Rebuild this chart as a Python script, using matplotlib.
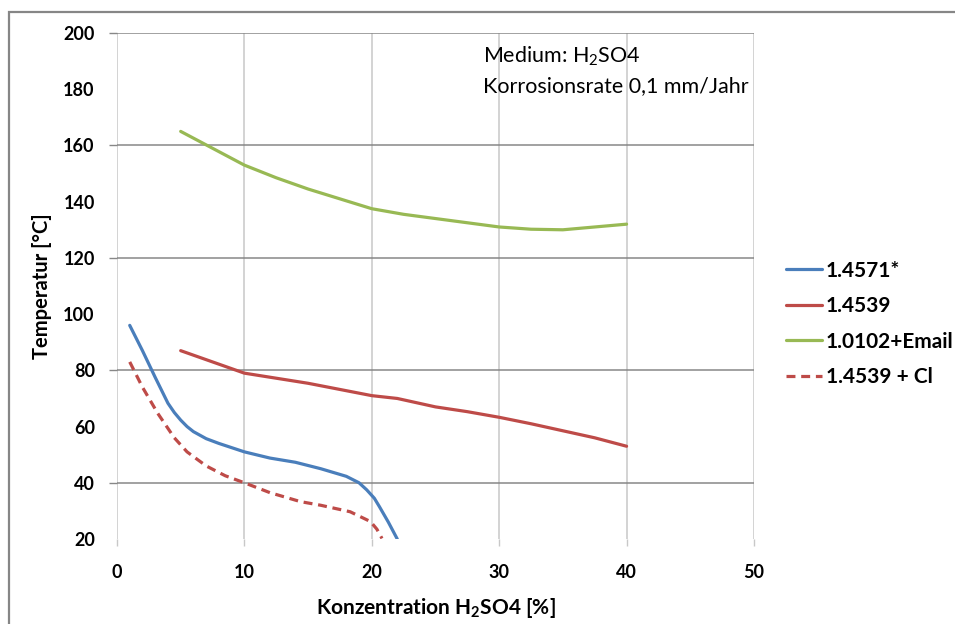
"""Temperature vs H2SO4 concentration at 0.1 mm/year corrosion rate."""

import matplotlib

matplotlib.use("Agg")
import matplotlib.pyplot as plt
from matplotlib.patches import Rectangle
from matplotlib.ticker import MultipleLocator, FixedLocator

plt.rcParams["font.family"] = ["Lato", "DejaVu Sans"]
plt.rcParams["mathtext.fontset"] = "custom"
plt.rcParams["mathtext.rm"] = "Lato"
plt.rcParams["mathtext.bf"] = "Lato:bold"
plt.rcParams["mathtext.it"] = "Lato:italic"

# values
conc_4571 = [1, 2, 3, 4, 4.5, 5, 5.5, 6, 7, 8, 10, 12, 14, 16, 18, 19, 19.6, 20.2, 20.6, 21.3, 22]
temp_4571 = [96, 87, 77.5, 68.3, 65, 62.3, 60, 58.2, 55.7, 54, 51, 48.8, 47.3, 45, 42.3, 40,
             37.5, 34.5, 31.5, 26, 20]

conc_4539 = [5, 7.5, 10, 12.5, 15, 17.5, 20, 22, 25, 27.5, 30, 32.5, 35, 37.5, 40]
temp_4539 = [87, 83, 79, 77.2, 75.4, 73.2, 71, 70, 67, 65.3, 63.3, 61, 58.5, 56, 53]

conc_0102 = [5, 7.5, 10, 12.5, 15, 17.5, 20, 22.5, 25, 27.5, 30, 32.5, 35, 37.5, 40]
temp_0102 = [165, 159, 153, 148.5, 144.5, 141, 137.5, 135.5, 134, 132.5, 131, 130.2, 130, 131, 132]

conc_4539cl = [1, 2, 3.2, 4.5, 5.5, 7, 8.5, 10, 12, 14.4, 16, 18.3, 19.9, 20.4, 20.8]
temp_4539cl = [83, 74, 64.7, 56, 51, 46, 42.5, 40, 36.5, 33.3, 32, 29.7, 26.2, 23.5, 20.2]

labels = ["1.4571*", "1.4539", "1.0102+Email", "1.4539 + Cl"]

fig = plt.figure(figsize=(9.55, 6.24), dpi=100)
ax = fig.add_axes([0.1225, 0.1362, 0.667, 0.8109])

# outer chart frame (cropped at right and bottom like the source)
fig.patches.append(Rectangle((9 / 955, -0.2), 1.2, 1.2 - 12 / 624,
                             transform=fig.transFigure, fill=False,
                             edgecolor="#868686", linewidth=1.6))

lw = 2.3
ax.plot(conc_4571, temp_4571, color="#4a7ebb", lw=lw, label=labels[0], solid_capstyle="round")
ax.plot(conc_4539, temp_4539, color="#be4b48", lw=lw, label=labels[1], solid_capstyle="round")
ax.plot(conc_0102, temp_0102, color="#98b954", lw=lw, label=labels[2], solid_capstyle="round")
ax.plot(conc_4539cl, temp_4539cl, color="#be4b48", lw=lw, ls=(0, (2.8, 1.8)), label=labels[3])

ax.set_xlim(0, 50)
ax.set_ylim(20, 200)
for s in ax.spines.values():
    s.set_visible(False)

# labels every 20, gridlines and tick marks only every 40
ax.xaxis.set_major_locator(MultipleLocator(10))
ax.yaxis.set_major_locator(FixedLocator([40, 80, 120, 160, 200]))
ax.yaxis.set_minor_locator(FixedLocator([20, 60, 100, 140, 180]))
ax.yaxis.set_minor_formatter(ax.yaxis.get_major_formatter())
ax.tick_params(axis="x", which="major", length=5, width=1, color="#c8c8c8", pad=13,
               labelsize=13)
ax.tick_params(axis="y", which="major", length=6, width=1, color="#878787", pad=10,
               labelsize=13)
ax.tick_params(axis="y", which="minor", length=0, pad=16, labelsize=13)
for lab in (ax.get_xticklabels() + ax.get_yticklabels()
            + ax.get_yticklabels(minor=True)):
    lab.set_fontweight("bold")
ax.grid(axis="x", which="major", color="#c8c8c8", lw=1.1)
ax.grid(axis="y", which="major", color="#878787", lw=1.1)
ax.set_axisbelow(True)

ax.set_xlabel(r"Konzentration H$_\mathbf{2}$SO4 [%]", fontsize=15, fontweight="bold", labelpad=11)
ax.set_ylabel("Temperatur [°C]", fontsize=14.5, fontweight="bold", labelpad=8)

ax.text(28.7, 189.3, r"Medium: H$_\mathrm{2}$SO4", fontsize=15.5, va="baseline")
ax.text(28.7, 179.0, "Korrosionsrate 0,1 mm/Jahr", fontsize=15.5, va="baseline")

leg = ax.legend(loc="center left", bbox_to_anchor=(1.021, 0.425), frameon=False,
                handlelength=1.7, handletextpad=0.2, labelspacing=0.75,
                prop={"size": 15, "weight": "bold"})

fig.savefig("out.png", dpi=100)
